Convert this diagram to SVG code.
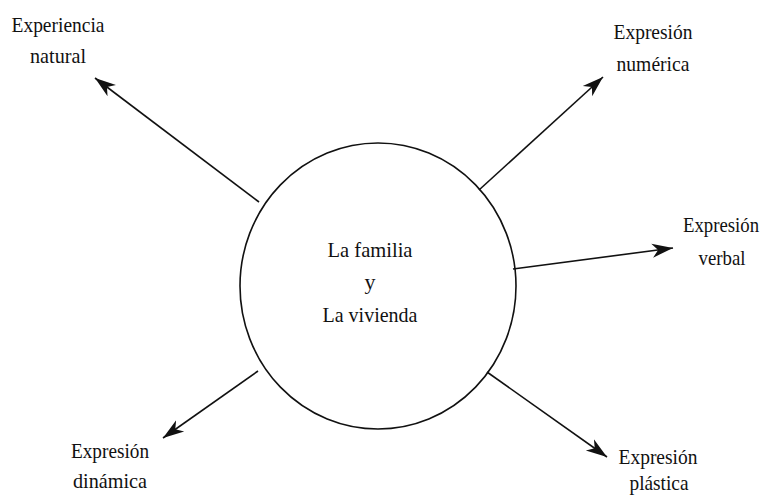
<svg xmlns="http://www.w3.org/2000/svg" width="766" height="501" viewBox="0 0 766 501">
<style>
text{font-family:"Liberation Serif","Times New Roman",serif;font-size:22px;fill:#111;}
.c{text-anchor:middle}
.ln{stroke:#111;stroke-width:1.6;fill:none;marker-end:url(#ah)}
</style>
<defs>
<marker id="ah" markerUnits="userSpaceOnUse" markerWidth="24" markerHeight="16" refX="21" refY="8" orient="auto">
<path d="M0,1 L21,8 L0,15 L6,8 Z" fill="#111"/>
</marker>
</defs>
<rect width="766" height="501" fill="#fff"/>
<g id="center">
<ellipse cx="378" cy="286" rx="138" ry="143" fill="none" stroke="#111" stroke-width="1.6"/>
<text x="370" y="257" class="c" textLength="85" lengthAdjust="spacingAndGlyphs">La familia</text>
<text x="370" y="289" class="c">y</text>
<text x="370" y="322" class="c" textLength="95" lengthAdjust="spacingAndGlyphs">La vivienda</text>
</g>
<g id="connectors">
<line class="ln" x1="259" y1="202" x2="95" y2="78"/>
<line class="ln" x1="479" y1="190" x2="603" y2="77"/>
<line class="ln" x1="513" y1="269" x2="673" y2="248"/>
<line class="ln" x1="258" y1="371" x2="163" y2="438"/>
<line class="ln" x1="487" y1="372" x2="607" y2="457"/>
</g>
<g id="experiencia">
<text x="58" y="32" class="c" textLength="93" lengthAdjust="spacingAndGlyphs">Experiencia</text>
<text x="58" y="63" class="c" textLength="56" lengthAdjust="spacingAndGlyphs">natural</text>
</g>
<g id="numerica">
<text x="653" y="39" class="c" textLength="79" lengthAdjust="spacingAndGlyphs">Expresión</text>
<text x="653" y="71" class="c" textLength="73" lengthAdjust="spacingAndGlyphs">numérica</text>
</g>
<g id="verbal">
<text x="721" y="232" class="c" style="font-size:20px" textLength="76" lengthAdjust="spacingAndGlyphs">Expresión</text>
<text x="722" y="265" class="c" textLength="47" lengthAdjust="spacingAndGlyphs">verbal</text>
</g>
<g id="dinamica">
<text x="110" y="458" class="c" textLength="78" lengthAdjust="spacingAndGlyphs">Expresión</text>
<text x="110" y="488" class="c" textLength="74" lengthAdjust="spacingAndGlyphs">dinámica</text>
</g>
<g id="plastica">
<text x="658" y="464" class="c" textLength="79" lengthAdjust="spacingAndGlyphs">Expresión</text>
<text x="659" y="490" class="c" textLength="59" lengthAdjust="spacingAndGlyphs">plástica</text>
</g>
</svg>
